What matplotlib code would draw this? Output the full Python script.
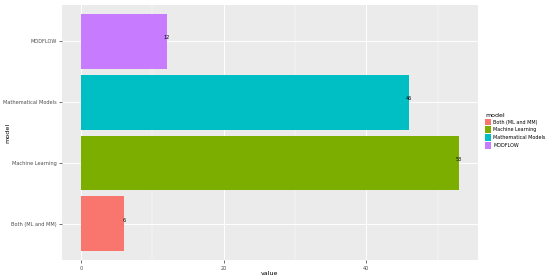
import matplotlib.pyplot as plt
from matplotlib.patches import Patch

models = ["Both (ML and MM)", "Machine Learning", "Mathematical Models", "MODFLOW"]
values = [6, 53, 46, 12]
colors = ["#F8766D", "#7CAE00", "#00BFC4", "#C77CFF"]

fig = plt.figure(figsize=(5.5, 2.8), dpi=100)
ax = fig.add_axes([0.113, 0.071, 0.756, 0.911])
ax.set_facecolor("#EBEBEB")

ypos = list(range(1, len(models) + 1))
ax.barh(ypos, values, height=0.9, color=colors, zorder=3)
for y, v in zip(ypos, values):
    ax.text(v, y + 0.06, str(v), ha="center", va="center", fontsize=3.6, color="black", zorder=4)

ax.set_xlim(-2.65, 55.65)
ax.set_ylim(0.4, 4.6)
ax.set_xticks([0, 20, 40])
ax.set_xticks([10, 30, 50], minor=True)
ax.set_yticks(ypos)
ax.set_yticklabels(models)
ax.grid(which="major", color="white", linewidth=0.7, zorder=0)
ax.grid(which="minor", axis="x", color="white", linewidth=0.35, zorder=0)
ax.tick_params(axis="both", which="major", labelsize=3.6, colors="#333333", length=2, width=0.5, pad=2, labelcolor="#4D4D4D")
ax.tick_params(axis="both", which="minor", length=0)
for s in ax.spines.values():
    s.set_visible(False)

ax.set_xlabel("value", fontsize=4.6)
ax.set_ylabel("model", fontsize=4.6)
ax.yaxis.set_label_coords(-0.125, 0.5)
ax.xaxis.set_label_coords(0.5, -0.043)

handles = [Patch(facecolor=c, edgecolor="none") for c in colors]
leg = fig.legend(handles, models, title="model", loc="upper left", bbox_to_anchor=(0.879, 0.605),
                 fontsize=3.5, title_fontsize=4.5, frameon=False, handlelength=1.1, handleheight=1.8,
                 handletextpad=0.5, labelspacing=0.2, borderaxespad=0)
leg._legend_box.align = "left"

fig.savefig("out.png", dpi=100)
